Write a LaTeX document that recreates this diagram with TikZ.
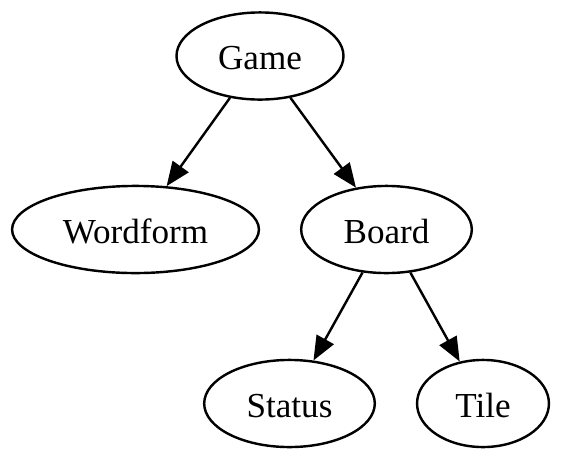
\documentclass[tikz,border=0pt]{standalone}
\usepackage{fontspec}
\setmainfont{Liberation Serif}
\usetikzlibrary{arrows.meta, shapes.geometric}

\begin{document}
\begin{tikzpicture}[
    x=0.4132pt, y=-0.4132pt,
    font=\fontsize{14.5pt}{16pt}\selectfont,
    >={Triangle[length=10pt,width=8pt]},
    line/.style={draw, line width=1pt, ->},
    cls/.style={
        ellipse, draw=black, line width=1pt,
        minimum height=36pt, inner sep=0pt,
        text height=11.4pt, text depth=0pt
    }
]
    \useasboundingbox (0,0) rectangle (562,459);

    % Nodes (one rank per row)
    \node[cls, minimum width=69pt] (game) at (260,56) {Game};
    \node[cls, minimum width=102pt] (wordform) at (135.5,229.5) {Wordform};
    \node[cls, minimum width=70.5pt] (board) at (386.5,229.5) {Board};
    \node[cls, minimum width=70.5pt] (status) at (289.5,403.5) {Status};
    \node[cls, minimum width=54.5pt] (tile) at (483,403.5) {Tile};

    % Arrows
    \path[line] (game) -- (wordform);
    \path[line] (game) -- (board);
    \path[line] (board) -- (status);
    \path[line] (board) -- (tile);

\end{tikzpicture}
\end{document}
